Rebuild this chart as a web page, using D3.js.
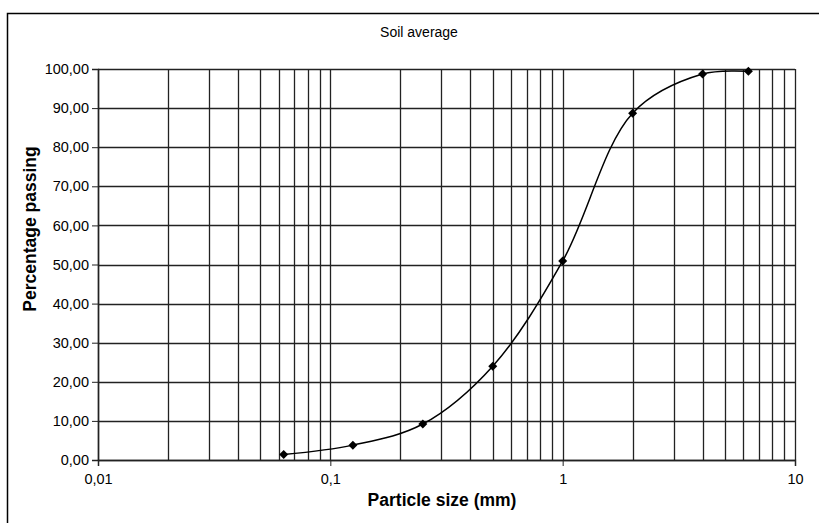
<!DOCTYPE html>
<html>
<head>
<meta charset="utf-8">
<script src="https://cdn.jsdelivr.net/npm/d3@7"></script>
<style>
  body { margin: 0; background: #fff; }
  text { font-family: "Liberation Sans", Arial, sans-serif; fill: #000; }
</style>
</head>
<body>
<div id="chart"></div>
<script>
// sieve sizes (mm) and percentage passing
const sizes = [0.063, 0.125, 0.25, 0.5, 1, 2, 4, 6.3];
const passing = [1.4, 3.8, 9.2, 24.0, 50.9, 88.7, 98.7, 99.4];
const xTickLabels = ["0,01", "0,1", "1", "10"];
const yTicks = [0, 10, 20, 30, 40, 50, 60, 70, 80, 90, 100];

const W = 819, H = 523;
const margin = {top: 69, left: 98, right: 24, bottom: 63};
const width = W - margin.left - margin.right,
    height = H - margin.top - margin.bottom;

const svg = d3.select("#chart")
    .append("svg")
    .attr("width", W)
    .attr("height", H);

// outer frame
svg.append("rect")
    .attr("x", 7.5).attr("y", 13.5)
    .attr("width", 820).attr("height", 530)
    .attr("fill", "none")
    .attr("stroke", "#000")
    .attr("stroke-width", 1.5);

svg.append("text")
    .attr("x", 419).attr("y", 37)
    .attr("text-anchor", "middle")
    .attr("font-size", 14)
    .text("Soil average");

const gr = svg.append("g")
    .attr("transform", "translate(" + margin.left + "," + margin.top + ")");

const xScale = d3.scaleLog().domain([0.01, 10]).range([0, width]);
const yScale = d3.scaleLinear().domain([0, 100]).range([height, 0]);

// vertical grid at 1..9 of every decade
const minor = [];
[0.01, 0.1, 1].forEach(dec => { for (let k = 1; k <= 10; k++) minor.push(dec * k); });
const vx = Array.from(new Set(minor.map(v => +v.toPrecision(3))));

gr.selectAll(".vgrid")
    .data(vx)
    .enter().append("line")
    .attr("class", "vgrid")
    .attr("x1", d => Math.round(xScale(d)) + 0.5)
    .attr("x2", d => Math.round(xScale(d)) + 0.5)
    .attr("y1", 0).attr("y2", height)
    .attr("stroke", "#222")
    .attr("stroke-width", 1.3);

gr.selectAll(".hgrid")
    .data(yTicks)
    .enter().append("line")
    .attr("class", "hgrid")
    .attr("x1", 0).attr("x2", width)
    .attr("y1", d => Math.round(yScale(d)) + 0.5)
    .attr("y2", d => Math.round(yScale(d)) + 0.5)
    .attr("stroke", "#222")
    .attr("stroke-width", 1.3);

// axes
const yAxis = d3.axisLeft(yScale)
    .tickValues(yTicks)
    .tickSize(6)
    .tickPadding(3)
    .tickFormat(d => d3.format(".2f")(d).replace(".", ","));

const yAxGr = gr.append("g").call(yAxis);
yAxGr.selectAll("text").attr("font-size", 14.5).attr("font-family", "Liberation Sans, Arial, sans-serif");
yAxGr.select(".domain").attr("stroke", "#222").attr("stroke-width", 1.5);
yAxGr.selectAll(".tick line").attr("stroke", "#222");

const xAxis = d3.axisBottom(xScale)
    .tickValues([0.01, 0.1, 1, 10])
    .tickSize(6)
    .tickPadding(8)
    .tickFormat((d, i) => xTickLabels[i]);

const xAxGr = gr.append("g")
    .attr("transform", "translate(0," + height + ")")
    .call(xAxis);
xAxGr.selectAll("text").attr("font-size", 14.5).attr("font-family", "Liberation Sans, Arial, sans-serif");
xAxGr.select(".domain").attr("stroke", "#222").attr("stroke-width", 1.5);
xAxGr.selectAll(".tick line").attr("stroke", "#222");

// curve
const pts = sizes.map((s, i) => [s, passing[i]]);
const line = d3.line()
    .x(d => xScale(d[0]))
    .y(d => yScale(d[1]))
    .curve(d3.curveCatmullRom.alpha(0.5));

gr.append("path")
    .datum(pts)
    .attr("d", line)
    .attr("fill", "none")
    .attr("stroke", "#000")
    .attr("stroke-width", 1.5);

gr.selectAll(".pt")
    .data(pts)
    .enter().append("path")
    .attr("class", "pt")
    .attr("transform", d => "translate(" + xScale(d[0]) + "," + yScale(d[1]) + ")")
    .attr("d", "M0,-4.5L4.5,0L0,4.5L-4.5,0Z")
    .attr("fill", "#000");

// axis titles
svg.append("text")
    .attr("x", 442).attr("y", 506)
    .attr("text-anchor", "middle")
    .attr("font-size", 17.5)
    .attr("font-weight", "bold")
    .text("Particle size (mm)");

svg.append("text")
    .attr("transform", "translate(36,229) rotate(-90)")
    .attr("text-anchor", "middle")
    .attr("font-size", 17.5)
    .attr("font-weight", "bold")
    .text("Percentage passing");
</script>
</body>
</html>
